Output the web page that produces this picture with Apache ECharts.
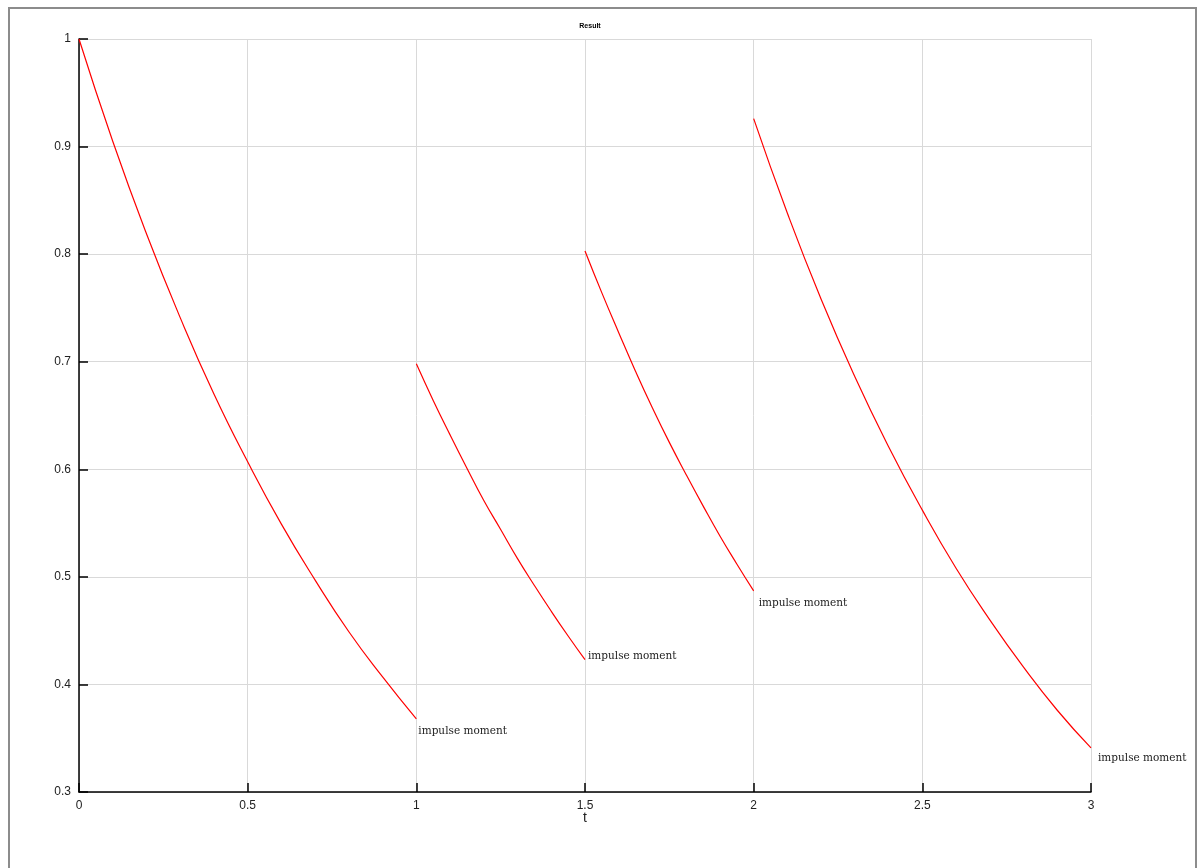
<!DOCTYPE html>
<html>
<head>
<meta charset="utf-8">
<title>Result</title>
<script src="https://cdn.jsdelivr.net/npm/echarts@6/dist/echarts.min.js"></script>
<style>
  html, body { margin: 0; padding: 0; background: #fff; overflow: hidden; }
  #frame {
    position: absolute; left: 8px; top: 7px; width: 1189px; height: 900px;
    box-sizing: border-box; border: 2px solid #8c8c8c; border-bottom: none;
    pointer-events: none;
  }
  #main { width: 1197px; height: 868px; }
</style>
</head>
<body>
<div id="main"></div>
<div id="frame"></div>
<script>
// 时间点（每段）
var t1 = [0, 0.1, 0.2, 0.3, 0.4, 0.5, 0.6, 0.7, 0.8, 0.9, 1.0];
var y1 = [1.000, 0.905, 0.819, 0.741, 0.670, 0.607, 0.549, 0.497, 0.449, 0.407, 0.368];

var t2 = [1.0, 1.05, 1.1, 1.15, 1.2, 1.25, 1.3, 1.35, 1.4, 1.45, 1.5];
var y2 = [0.698, 0.664, 0.632, 0.601, 0.571, 0.544, 0.517, 0.492, 0.468, 0.445, 0.423];

var t3 = [1.5, 1.55, 1.6, 1.65, 1.7, 1.75, 1.8, 1.85, 1.9, 1.95, 2.0];
var y3 = [0.803, 0.764, 0.727, 0.691, 0.657, 0.625, 0.595, 0.566, 0.538, 0.512, 0.487];

var t4 = [2.0, 2.1, 2.2, 2.3, 2.4, 2.5, 2.6, 2.7, 2.8, 2.9, 3.0];
var y4 = [0.926, 0.838, 0.758, 0.686, 0.621, 0.562, 0.508, 0.460, 0.416, 0.376, 0.341];

var endText = 'impulse moment';

function pairs(t, y) {
  return t.map(function (v, i) { return [v, y[i]]; });
}

// 每段末尾的标注位置略有不同
function segment(t, y, labelOffset) {
  return {
    type: 'line',
    data: pairs(t, y),
    smooth: true,
    showSymbol: false,
    lineStyle: { color: '#ff0000', width: 1.2 },
    endLabel: {
      show: true,
      formatter: endText,
      distance: 2,
      offset: labelOffset,
      fontFamily: 'DejaVu Serif',
      fontSize: 10.5,
      color: '#222'
    },
    silent: true,
    animation: false
  };
}

var myChart = echarts.init(document.getElementById('main'));

var option = {
  backgroundColor: '#fff',
  title: {
    text: 'Result',
    left: 585,
    top: 18,
    textAlign: 'center',
    textStyle: { fontSize: 7, fontWeight: 'bold', color: '#000', fontFamily: 'Liberation Sans' }
  },
  grid: { left: 79, right: 106, top: 39, bottom: 76 },
  xAxis: {
    type: 'value',
    min: 0,
    max: 3,
    interval: 0.5,
    name: 't',
    nameLocation: 'middle',
    nameGap: 19,
    nameMoveOverlap: false,
    nameTextStyle: { fontSize: 14, color: '#222', fontFamily: 'Liberation Sans' },
    axisLine: { lineStyle: { color: '#000', width: 1.5 } },
    axisTick: { inside: true, length: 9, lineStyle: { color: '#000', width: 1.5 } },
    axisLabel: { margin: 8, fontSize: 12, color: '#222', fontFamily: 'Liberation Sans' },
    splitLine: { lineStyle: { color: '#d9d9d9', width: 1 } }
  },
  yAxis: {
    type: 'value',
    min: 0.3,
    max: 1,
    interval: 0.1,
    axisLine: { show: true, lineStyle: { color: '#000', width: 1.5 } },
    axisTick: { show: true, inside: true, length: 9, lineStyle: { color: '#000', width: 1.5 } },
    axisLabel: {
      margin: 8, fontSize: 12, color: '#222', fontFamily: 'Liberation Sans',
      formatter: function (v) { return String(+v.toFixed(1)); }
    },
    splitLine: { lineStyle: { color: '#d9d9d9', width: 1 } }
  },
  series: [
    segment(t1, y1, [0, 12]),
    segment(t2, y2, [1, -3]),
    segment(t3, y3, [3, 12]),
    segment(t4, y4, [5, 10])
  ]
};

myChart.setOption(option);
</script>
</body>
</html>
